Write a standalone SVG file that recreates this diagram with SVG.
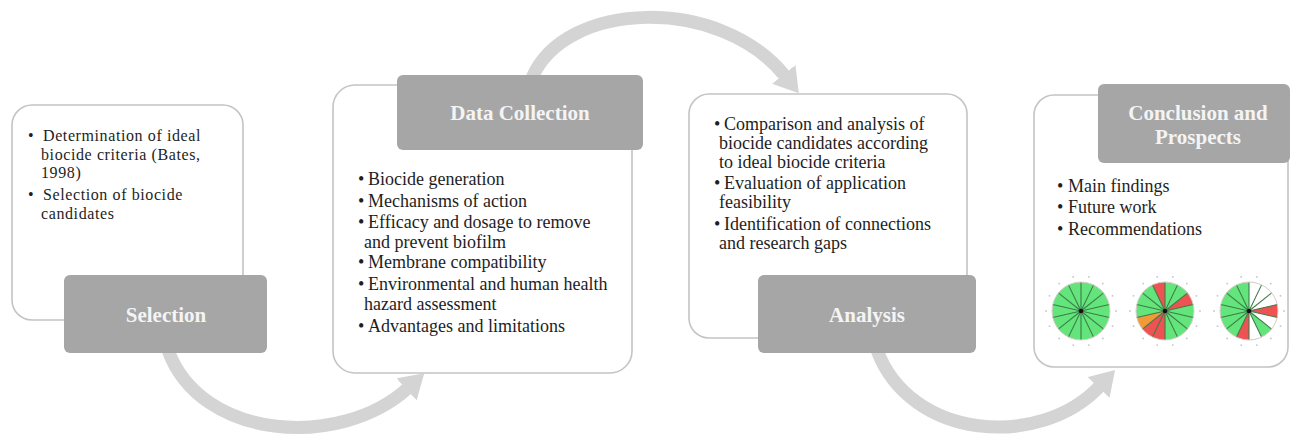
<svg xmlns="http://www.w3.org/2000/svg" xmlns:xlink="http://www.w3.org/1999/xlink" width="1290" height="441" viewBox="0 0 1290 441">
<style>
.panel{fill:#ffffff;stroke:#c4c4c4;stroke-width:1.6}
.tab{fill:#a6a6a6}
.tabtxt{font-family:"Liberation Serif","Times New Roman",serif;font-weight:bold;font-size:21px;fill:#f4f4f4;text-anchor:middle}
.body{font-family:"Liberation Serif","Times New Roman",serif;font-size:18px;fill:#1e1e1e}
.small{font-size:16px;letter-spacing:0.6px}
.conn{fill:none;stroke:#d4d4d4;stroke-width:13}
.g{fill:#63e57c}
.r{fill:#ee5252}
.o{fill:#f29a38}
.w{fill:#ffffff}
.spk{stroke:#3f7a4b;stroke-width:1.1}
.rim{fill:none;stroke:#dccccc;stroke-width:1}
.dot{fill:#9a9db4;opacity:0.6}
</style>
<defs>
<marker id="ah" markerUnits="userSpaceOnUse" markerWidth="24" markerHeight="30" refX="2" refY="15" orient="auto" viewBox="0 0 24 30">
<path d="M0,0 L24,15 L0,30 Z" fill="#d4d4d4"/>
</marker>
<g id="spokes" class="spk">
<line x1="0" y1="0" x2="0" y2="-29"/>
<line x1="0" y1="0" x2="12.58" y2="-26.13"/>
<line x1="0" y1="0" x2="22.67" y2="-18.08"/>
<line x1="0" y1="0" x2="28.27" y2="-6.45"/>
<line x1="0" y1="0" x2="28.27" y2="6.45"/>
<line x1="0" y1="0" x2="22.67" y2="18.08"/>
<line x1="0" y1="0" x2="12.58" y2="26.13"/>
<line x1="0" y1="0" x2="0" y2="29"/>
<line x1="0" y1="0" x2="-12.58" y2="26.13"/>
<line x1="0" y1="0" x2="-22.67" y2="18.08"/>
<line x1="0" y1="0" x2="-28.27" y2="6.45"/>
<line x1="0" y1="0" x2="-28.27" y2="-6.45"/>
<line x1="0" y1="0" x2="-22.67" y2="-18.08"/>
<line x1="0" y1="0" x2="-12.58" y2="-26.13"/>
</g>
<g id="dots" class="dot">
<circle cx="7.8" cy="-34.1" r="0.9"/><circle cx="21.8" cy="-27.4" r="0.9"/><circle cx="31.5" cy="-15.2" r="0.9"/><circle cx="35" cy="0" r="0.9"/>
<circle cx="31.5" cy="15.2" r="0.9"/><circle cx="21.8" cy="27.4" r="0.9"/><circle cx="7.8" cy="34.1" r="0.9"/><circle cx="-7.8" cy="34.1" r="0.9"/>
<circle cx="-21.8" cy="27.4" r="0.9"/><circle cx="-31.5" cy="15.2" r="0.9"/><circle cx="-35" cy="0" r="0.9"/><circle cx="-31.5" cy="-15.2" r="0.9"/>
<circle cx="-21.8" cy="-27.4" r="0.9"/><circle cx="-7.8" cy="-34.1" r="0.9"/>
</g>
</defs>
<rect width="1290" height="441" fill="#ffffff"/>

<g id="connectors">
<path class="conn" d="M168,350 C200,440 340,450 408,388" marker-end="url(#ah)"/>
<path class="conn" d="M532,78 C565,0 720,-5 785,76" marker-end="url(#ah)"/>
<path class="conn" d="M877,350 C910,440 1040,450 1100,386" marker-end="url(#ah)"/>
</g>

<g id="selection">
<rect class="panel" x="12" y="105" width="231" height="215" rx="20"/>
<text class="body small"><tspan x="28" y="141">•</tspan><tspan x="43" y="141">Determination of ideal</tspan></text>
<text class="body small" x="41" y="159.5">biocide criteria (Bates,</text>
<text class="body small" x="41" y="178">1998)</text>
<text class="body small"><tspan x="28" y="200">•</tspan><tspan x="43" y="200">Selection of biocide</tspan></text>
<text class="body small" x="41" y="218.5">candidates</text>
<rect class="tab" x="64" y="275" width="203" height="78" rx="6"/>
<text class="tabtxt" x="166" y="322">Selection</text>
</g>

<g id="data-collection">
<rect class="panel" x="333" y="85" width="299" height="288" rx="22"/>
<rect class="tab" x="397" y="75" width="246" height="75" rx="6"/>
<text class="tabtxt" x="520" y="120">Data Collection</text>
<text class="body"><tspan x="358" y="185">•</tspan><tspan x="368" y="185">Biocide generation</tspan></text>
<text class="body"><tspan x="358" y="207">•</tspan><tspan x="368" y="207">Mechanisms of action</tspan></text>
<text class="body"><tspan x="358" y="228">•</tspan><tspan x="368" y="228">Efficacy and dosage to remove</tspan></text>
<text class="body" x="364" y="248">and prevent biofilm</text>
<text class="body"><tspan x="358" y="268">•</tspan><tspan x="368" y="268">Membrane compatibility</tspan></text>
<text class="body"><tspan x="358" y="290">•</tspan><tspan x="368" y="290">Environmental and human health</tspan></text>
<text class="body" x="364" y="310">hazard assessment</text>
<text class="body"><tspan x="358" y="332">•</tspan><tspan x="368" y="332">Advantages and limitations</tspan></text>
</g>

<g id="analysis">
<rect class="panel" x="689" y="94" width="278" height="244" rx="20"/>
<text class="body"><tspan x="714" y="130">•</tspan><tspan x="724" y="130">Comparison and analysis of</tspan></text>
<text class="body" x="719" y="149">biocide candidates according</text>
<text class="body" x="719" y="168">to ideal biocide criteria</text>
<text class="body"><tspan x="714" y="189">•</tspan><tspan x="724" y="189">Evaluation of application</tspan></text>
<text class="body" x="719" y="208">feasibility</text>
<text class="body"><tspan x="714" y="230">•</tspan><tspan x="724" y="230">Identification of connections</tspan></text>
<text class="body" x="719" y="249">and research gaps</text>
<rect class="tab" x="758" y="275" width="218" height="78" rx="6"/>
<text class="tabtxt" x="867" y="322">Analysis</text>
</g>

<g id="conclusion">
<rect class="panel" x="1034" y="95" width="254" height="272" rx="20"/>
<rect class="tab" x="1098" y="84" width="192" height="79" rx="6"/>
<text class="tabtxt" x="1198" y="120">Conclusion and</text>
<text class="tabtxt" x="1198" y="144">Prospects</text>
<text class="body"><tspan x="1057" y="192">•</tspan><tspan x="1068" y="192">Main findings</tspan></text>
<text class="body"><tspan x="1057" y="213">•</tspan><tspan x="1068" y="213">Future work</tspan></text>
<text class="body"><tspan x="1057" y="235">•</tspan><tspan x="1068" y="235">Recommendations</tspan></text>

<g id="chart1" transform="translate(1081,311)">
<circle class="g" r="29"/>
<use xlink:href="#spokes"/>
<circle class="rim" r="29"/>
<circle r="2.2" fill="#111"/>
<use xlink:href="#dots"/>
</g>
<g id="chart2" transform="translate(1165,311)">
<circle class="g" r="29"/>
<path class="r" d="M0,0 L22.67,-18.08 A29,29 0 0 1 28.27,-6.45 Z"/>
<path class="r" d="M0,0 L0,29 A29,29 0 0 1 -22.67,18.08 Z"/>
<path class="o" d="M0,0 L-22.67,18.08 A29,29 0 0 1 -28.27,6.45 Z"/>
<path class="r" d="M0,0 L-12.58,-26.13 A29,29 0 0 1 0,-29 Z"/>
<use xlink:href="#spokes"/>
<circle class="rim" r="29"/>
<circle r="2.2" fill="#111"/>
<use xlink:href="#dots"/>
</g>
<g id="chart3" transform="translate(1249,311)">
<circle class="g" r="29"/>
<path class="w" d="M0,0 L0,-29 A29,29 0 0 1 28.27,-6.45 Z"/>
<path class="r" d="M0,0 L28.27,-6.45 A29,29 0 0 1 28.27,6.45 Z"/>
<path class="w" d="M0,0 L28.27,6.45 A29,29 0 0 1 22.67,18.08 Z"/>
<path class="w" d="M0,0 L12.58,26.13 A29,29 0 0 1 0,29 Z"/>
<path class="r" d="M0,0 L0,29 A29,29 0 0 1 -12.58,26.13 Z"/>
<use xlink:href="#spokes"/>
<circle class="rim" r="29"/>
<circle r="2.2" fill="#111"/>
<use xlink:href="#dots"/>
</g>
</g>
</svg>
